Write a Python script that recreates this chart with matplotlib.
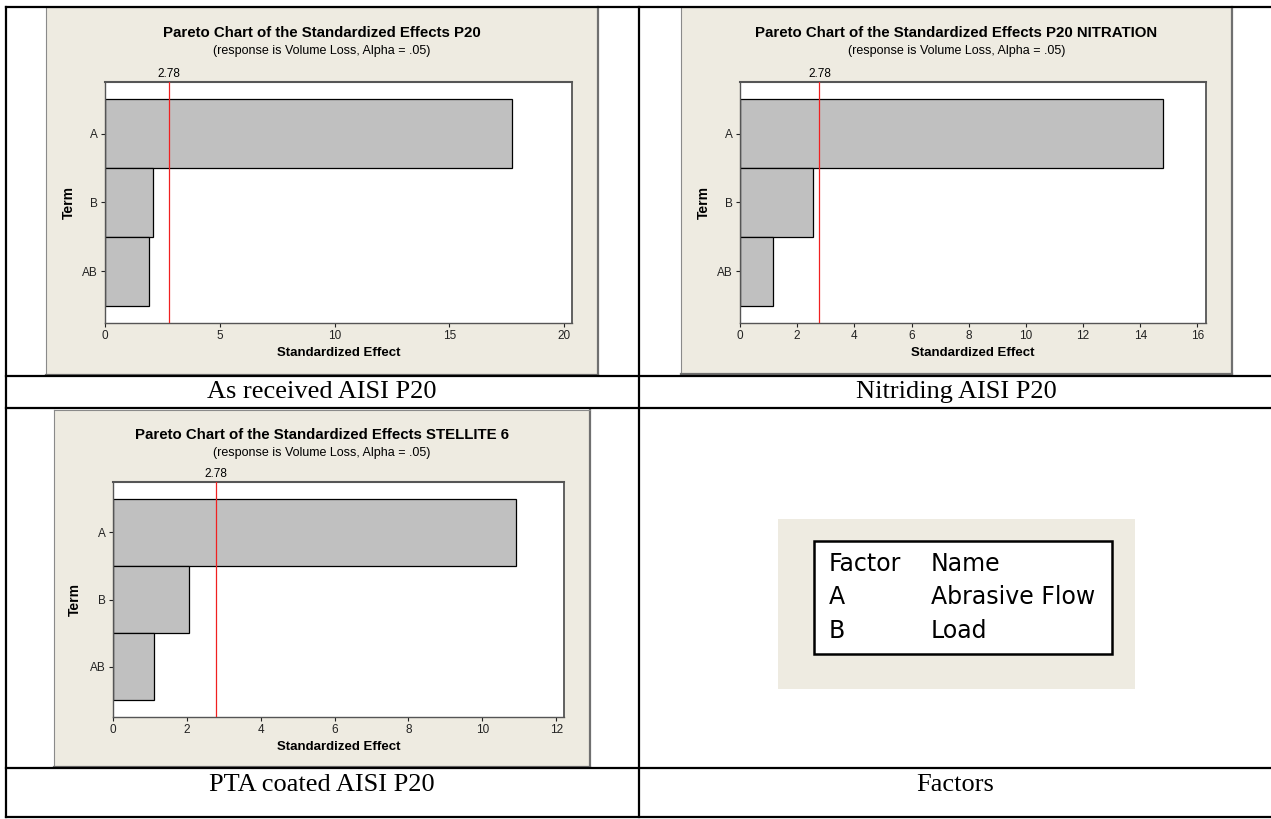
import matplotlib
matplotlib.use("Agg")
import matplotlib.pyplot as plt
import matplotlib.transforms as mtransforms
from matplotlib.patches import Rectangle
from matplotlib.lines import Line2D

# data
terms = ['A', 'B', 'AB']
effects_p20 = [17.72, 2.08, 1.90]
effects_nitration = [14.81, 2.55, 1.15]
effects_stellite = [10.90, 2.05, 1.11]
t_crit = 2.78

titles = ['Pareto Chart of the Standardized Effects P20',
          'Pareto Chart of the Standardized Effects P20 NITRATION',
          'Pareto Chart of the Standardized Effects STELLITE 6']
subtitle = '(response is Volume Loss, Alpha = .05)'
captions = ['As received AISI P20', 'Nitriding AISI P20', 'PTA coated AISI P20', 'Factors']
xticks_p20 = [0, 5, 10, 15, 20]
xticks_nitration = [0, 2, 4, 6, 8, 10, 12, 14, 16]
xticks_stellite = [0, 2, 4, 6, 8, 10, 12]

factor_rows = [('Factor', 'Name'), ('A', 'Abrasive Flow'), ('B', 'Load')]

W, H = 1271, 819
BEIGE = '#EEEBE1'
SANS = ['Liberation Sans', 'DejaVu Sans']

fig = plt.figure(figsize=(W / 100, H / 100), dpi=100)
fig.patch.set_facecolor('white')


def fx(x):
    return x / W


def fy(y):
    return 1 - y / H


def rect(x0, y0, x1, y1):
    return [fx(x0), fy(y1), fx(x1) - fx(x0), fy(y0) - fy(y1)]


def hline(y, x0, x1, lw=1.6):
    fig.add_artist(Line2D([fx(x0), fx(x1)], [fy(y), fy(y)], color='black', lw=lw,
                          transform=fig.transFigure))


def vline(x, y0, y1, lw=1.6):
    fig.add_artist(Line2D([fx(x), fx(x)], [fy(y0), fy(y1)], color='black', lw=lw,
                          transform=fig.transFigure))


def panel(x0, y0, x1, y1):
    p = fig.add_axes(rect(x0, y0, x1, y1))
    p.set_facecolor(BEIGE)
    p.set_xticks([])
    p.set_yticks([])
    for s in ['left', 'top']:
        p.spines[s].set_color('#8a8a8a')
        p.spines[s].set_linewidth(0.8)
    for s in ['right', 'bottom']:
        p.spines[s].set_color('#707070')
        p.spines[s].set_linewidth(1.6)
    p.set_zorder(0)
    return p


def pareto(pan, ax_box, vals, xmax, xticks, title, title_y, ylab_x):
    px0, py0, px1, py1 = pan
    panel(*pan)
    ax = fig.add_axes(rect(*ax_box))
    ax.set_zorder(1)
    ax.set_facecolor('white')
    ax.barh(range(len(terms)), vals, height=1.0, color='#C0C0C0',
            edgecolor='black', linewidth=0.9, zorder=2)
    ax.axvline(t_crit, color='#F02020', lw=0.9, zorder=3)
    ax.set_xlim(0, xmax)
    ax.set_ylim(len(terms) - 0.5 + 0.25, -0.75)
    ax.set_yticks(range(len(terms)))
    ax.set_yticklabels(terms)
    ax.set_xticks(xticks)
    ax.tick_params(length=3, width=0.8, pad=2, labelsize=8.5, colors='#222222')
    for lab in ax.get_xticklabels() + ax.get_yticklabels():
        lab.set_family(SANS)
    for s in ax.spines.values():
        s.set_color('#555555')
        s.set_linewidth(1.0)
    ax.spines['top'].set_linewidth(1.5)
    ax.spines['right'].set_linewidth(1.3)
    trans = mtransforms.blended_transform_factory(ax.transData, ax.transAxes)
    ax.text(t_crit, 1.0, '2.78', ha='center', va='bottom', fontsize=8.5, family=SANS,
            transform=trans + mtransforms.ScaledTranslation(0, 2 / 100, fig.dpi_scale_trans))

    cx = (px0 + px1) / 2
    fig.text(fx(cx), fy(title_y), title, ha='center', va='center',
             fontsize=10.8, fontweight='bold', family=SANS)
    fig.text(fx(cx), fy(title_y + 18), subtitle, ha='center', va='center',
             fontsize=9, family=SANS)
    ax_x0, ax_y0, ax_x1, ax_y1 = ax_box
    fig.text(fx((ax_x0 + ax_x1) / 2), fy(ax_y1 + 30), 'Standardized Effect',
             ha='center', va='center', fontsize=9.5, fontweight='bold', family=SANS)
    fig.text(fx(ylab_x), fy((ax_y0 + ax_y1) / 2), 'Term', rotation=90,
             ha='center', va='center', fontsize=10, fontweight='bold', family=SANS)
    return ax


pareto((46, 7, 598, 375), (105, 82, 572, 323), effects_p20, 20.34, xticks_p20,
       titles[0], 33, 69)
pareto((681, 7, 1232, 374), (740, 82, 1206, 323), effects_nitration, 16.30,
       xticks_nitration, titles[1], 33, 704)
pareto((54, 410, 590, 767), (113, 482, 564, 717), effects_stellite, 12.21,
       xticks_stellite, titles[2], 435, 75)

# factor legend box
panel_f = fig.add_axes(rect(778, 519, 1135, 689))
panel_f.set_facecolor(BEIGE)
panel_f.set_xticks([])
panel_f.set_yticks([])
for s in panel_f.spines.values():
    s.set_visible(False)
fig.add_artist(Rectangle((fx(814), fy(654)), fx(1112) - fx(814), fy(541) - fy(654),
                         transform=fig.transFigure, facecolor='white',
                         edgecolor='black', lw=1.8, zorder=3))
for i, (a, b) in enumerate(factor_rows):
    yy = 564 + i * 33.5
    fig.text(fx(829), fy(yy), a, ha='left', va='center', fontsize=17,
             family='DejaVu Sans', zorder=4)
    fig.text(fx(931), fy(yy), b, ha='left', va='center', fontsize=17,
             family='DejaVu Sans', zorder=4)

# table grid
hline(7, 6, W)
hline(376, 6, W)
hline(408, 6, W)
hline(768, 6, W)
hline(817, 6, W)
vline(6, 7, 817)
vline(639, 7, 817)

# captions
cap_pos = [(322, 392), (956, 392), (322, 785), (955, 785)]
for txt, (x, y) in zip(captions, cap_pos):
    fig.text(fx(x), fy(y), txt, ha='center', va='center', fontsize=19,
             family='Liberation Serif')

fig.savefig('out.png', dpi=100, facecolor='white')
